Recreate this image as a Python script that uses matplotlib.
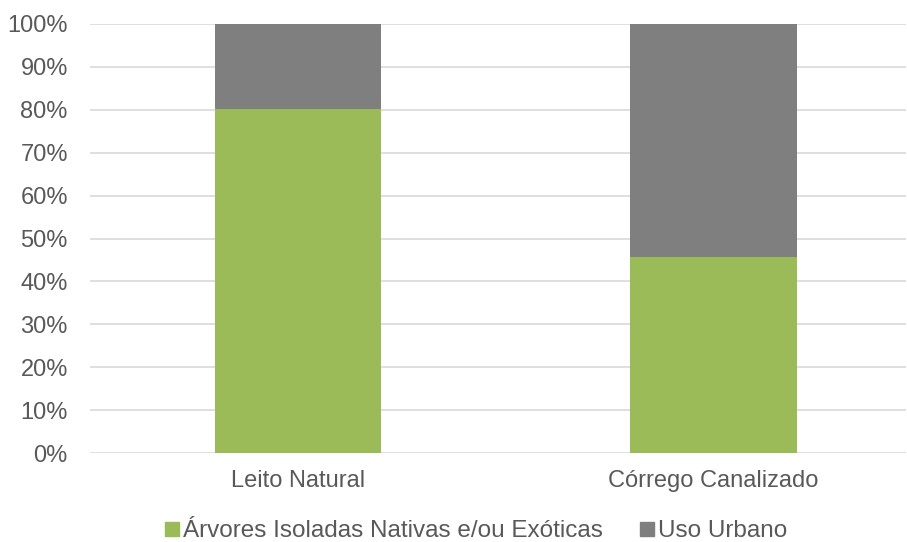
import matplotlib
matplotlib.use("Agg")
import matplotlib.pyplot as plt
from matplotlib.ticker import PercentFormatter
from matplotlib.lines import Line2D

plt.rcParams['font.family'] = ['Liberation Sans', 'DejaVu Sans']

categories = ["Leito Natural", "Córrego Canalizado"]
arvores = [80.1, 45.7]
urbano = [19.9, 54.3]
series_names = ["Árvores Isoladas Nativas e/ou Exóticas", "Uso Urbano"]
colors = ["#9BBB59", "#7F7F7F"]
text_color = "#595959"

W, H = 907, 542
fig = plt.figure(figsize=(W / 100, H / 100), dpi=100)
ax = fig.add_axes([90 / W, 1 - 453.3 / H, (906 - 90) / W, (453.3 - 23.7) / H])

x = list(range(len(categories)))
ax.bar(x, arvores, width=0.4, color=colors[0], zorder=3)
ax.bar(x, urbano, width=0.4, bottom=arvores, color=colors[1], zorder=3)

ax.set_ylim(0, 100)
ax.set_xlim(-0.5, 1.463)
ax.set_yticks(range(0, 101, 10))
ax.yaxis.set_major_formatter(PercentFormatter(decimals=0))
ax.set_xticks(x)
ax.set_xticklabels(categories)
ax.grid(axis='y', color="#D9D9D9", linewidth=1.2, zorder=0)
for s in ax.spines.values():
    s.set_visible(False)
ax.tick_params(axis='both', length=0, labelsize=17, colors=text_color)
ax.tick_params(axis='y', pad=16)
ax.tick_params(axis='x', pad=12)

handles = [Line2D([], [], marker='s', linestyle='none', markersize=10,
                  markerfacecolor=c, markeredgecolor=c) for c in colors]
leg = fig.legend(handles, series_names, loc='center', bbox_to_anchor=(475.5 / W, 1 - 531 / H),
                 ncol=2, frameon=False, fontsize=17.5, handletextpad=0.1,
                 columnspacing=1.45, handlelength=0.7)
for t in leg.get_texts():
    t.set_color(text_color)

fig.savefig("out.png", dpi=100)
